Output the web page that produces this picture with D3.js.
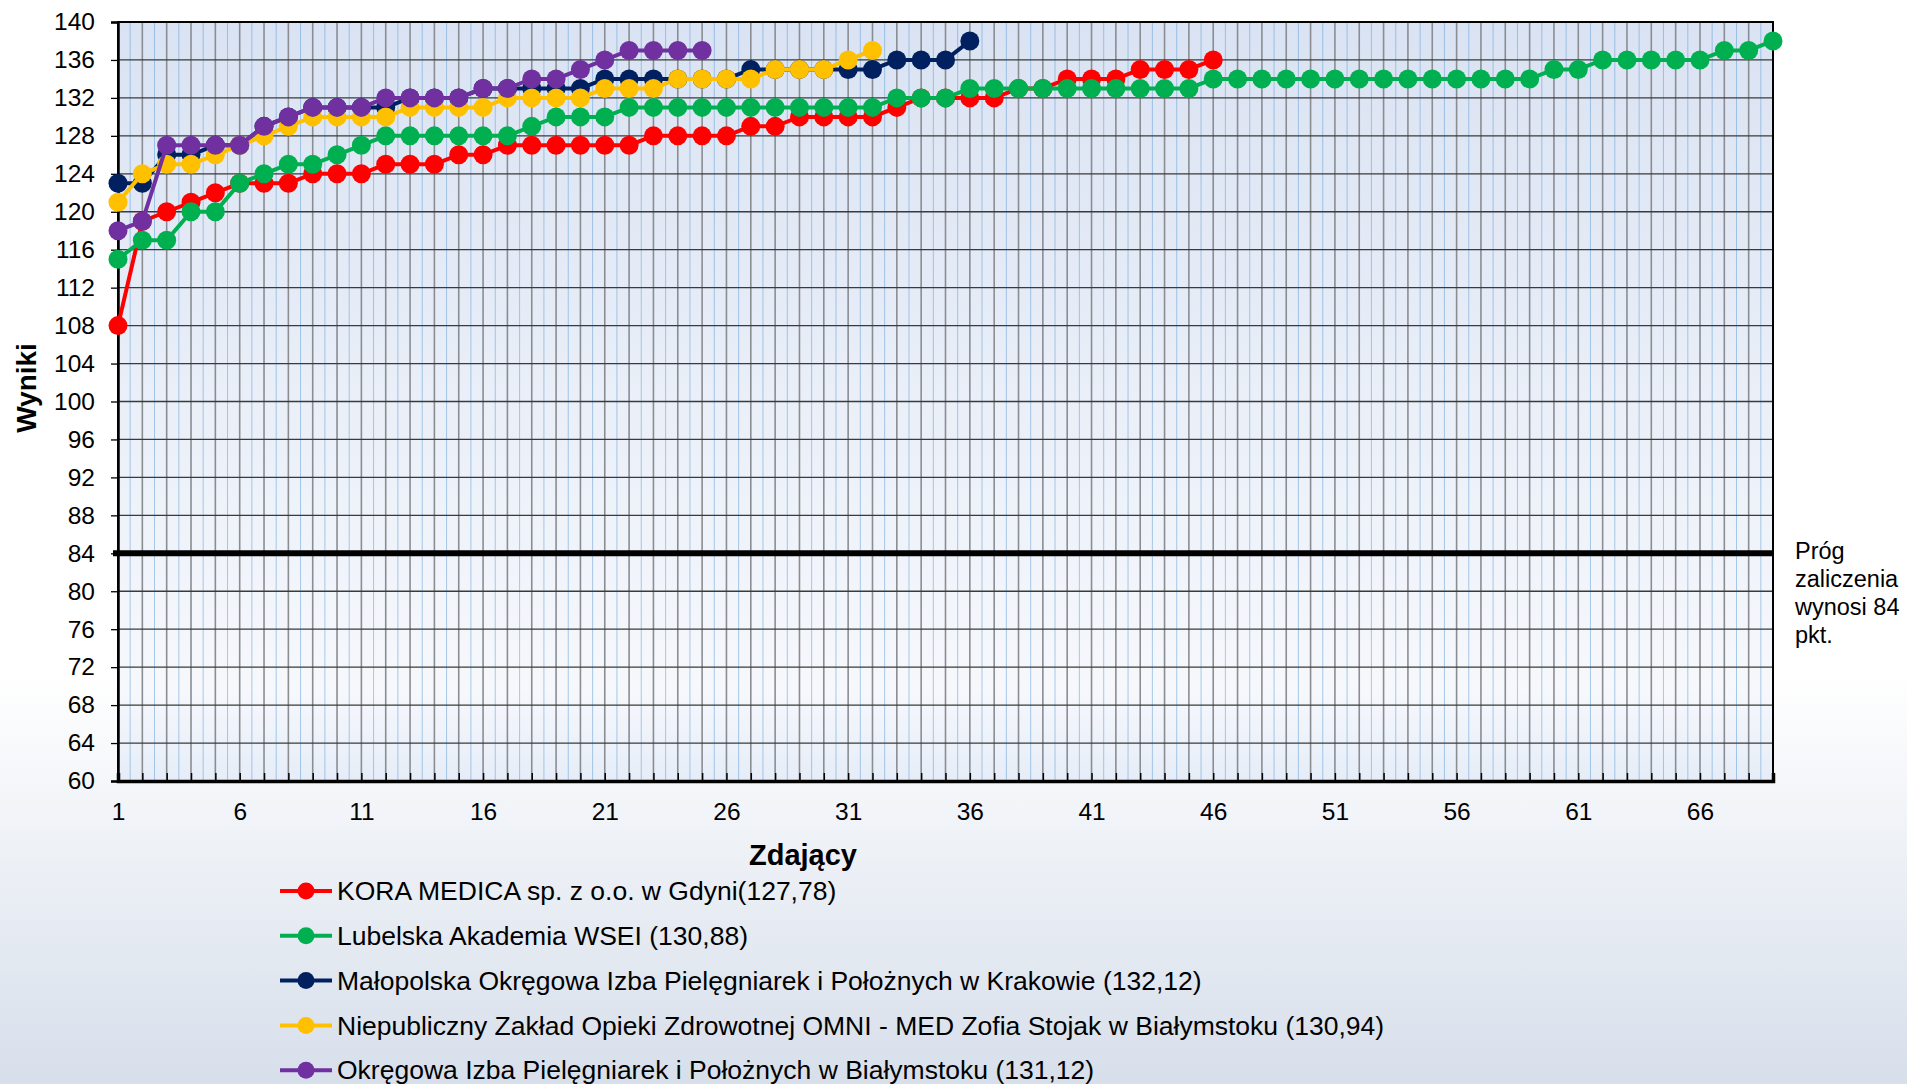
<!DOCTYPE html>
<html>
<head>
<meta charset="utf-8">
<script src="https://cdn.jsdelivr.net/npm/d3@7"></script>
<style>
  body { margin: 0; }
  svg { display: block; }
  text { font-family: "Liberation Sans", Arial, sans-serif; fill: #000; }
</style>
</head>
<body>
<svg id="chart" width="1907" height="1084"></svg>
<script>
// participants on the x axis (1..69)
const participants = d3.range(1, 70);
const xTickLabels = [1, 6, 11, 16, 21, 26, 31, 36, 41, 46, 51, 56, 61, 66];
const yTicks = [60, 64, 68, 72, 76, 80, 84, 88, 92, 96, 100, 104, 108, 112, 116, 120, 124, 128, 132, 136, 140];
const passThreshold = 84;
const thresholdLabel = ['Próg', 'zaliczenia', 'wynosi 84', 'pkt.'];

const seriesNames = [
    'KORA MEDICA sp. z o.o. w Gdyni(127,78)',
    'Lubelska Akademia WSEI (130,88)',
    'Małopolska Okręgowa Izba Pielęgniarek i Położnych w Krakowie (132,12)',
    'Niepubliczny Zakład Opieki Zdrowotnej OMNI - MED Zofia Stojak w Białymstoku (130,94)',
    'Okręgowa Izba Pielęgniarek i Położnych w Białymstoku (131,12)'
];
const seriesColors = ['#ff0000', '#00b050', '#002060', '#ffc000', '#7030a0'];

const koraMedica = [108, 119, 120, 121, 122, 123, 123, 123, 124, 124, 124, 125, 125, 125, 126, 126,
    127, 127, 127, 127, 127, 127, 128, 128, 128, 128, 129, 129, 130, 130, 130, 130, 131, 132, 132, 132,
    132, 133, 133, 134, 134, 134, 135, 135, 135, 136];
const lubelskaWsei = [115, 117, 117, 120, 120, 123, 124, 125, 125, 126, 127, 128, 128, 128, 128, 128,
    128, 129, 130, 130, 130, 131, 131, 131, 131, 131, 131, 131, 131, 131, 131, 131, 132, 132, 132, 133,
    133, 133, 133, 133, 133, 133, 133, 133, 133, 134, 134, 134, 134, 134, 134, 134, 134, 134, 134, 134,
    134, 134, 134, 135, 135, 136, 136, 136, 136, 136, 137, 137, 138];
const malopolskaOipip = [123, 123, 126, 126, 127, 127, 129, 130, 131, 131, 131, 131, 132, 132, 132, 133,
    133, 133, 133, 133, 134, 134, 134, 134, 134, 134, 135, 135, 135, 135, 135, 135, 136, 136, 136, 138];
const omniMed = [121, 124, 125, 125, 126, 127, 128, 129, 130, 130, 130, 130, 131, 131, 131, 131, 132,
    132, 132, 132, 133, 133, 133, 134, 134, 134, 134, 135, 135, 135, 136, 137];
const oipipBialystok = [118, 119, 127, 127, 127, 127, 129, 130, 131, 131, 131, 132, 132, 132, 132, 133,
    133, 134, 134, 135, 136, 137, 137, 137, 137];

const seriesValues = [koraMedica, lubelskaWsei, malopolskaOipip, omniMed, oipipBialystok];

const svg = d3.select('#chart');
const plot = { left: 118, right: 1773, top: 22, bottom: 781 };

const xScale = d3.scaleLinear().domain([1, 69]).range([plot.left, plot.right]);
const yScale = d3.scaleLinear().domain([60, 140]).range([plot.bottom, plot.top]);

// page + plot backgrounds
const defs = svg.append('defs');
const pageGrad = defs.append('linearGradient').attr('id', 'pageGrad')
    .attr('x1', 0).attr('y1', 0).attr('x2', 0).attr('y2', 1);
pageGrad.append('stop').attr('offset', '0%').attr('stop-color', '#ffffff');
pageGrad.append('stop').attr('offset', '62%').attr('stop-color', '#ffffff');
pageGrad.append('stop').attr('offset', '100%').attr('stop-color', '#d7dfeb');

const plotGrad = defs.append('linearGradient').attr('id', 'plotGrad')
    .attr('x1', 0).attr('y1', 0).attr('x2', 0).attr('y2', 1);
plotGrad.append('stop').attr('offset', '0%').attr('stop-color', '#dae3f3');
plotGrad.append('stop').attr('offset', '88%').attr('stop-color', '#f6f8fc');
plotGrad.append('stop').attr('offset', '100%').attr('stop-color', '#e6edf8');

svg.append('rect').attr('width', 1907).attr('height', 1084).attr('fill', 'url(#pageGrad)');
svg.append('rect')
    .attr('x', plot.left).attr('y', plot.top)
    .attr('width', plot.right - plot.left).attr('height', plot.bottom - plot.top)
    .attr('fill', 'url(#plotGrad)');

// thin blue lines between categories
svg.append('g').selectAll('line')
    .data(participants.slice(0, -1))
    .join('line')
        .attr('x1', d => xScale(d + 0.5)).attr('x2', d => xScale(d + 0.5))
        .attr('y1', plot.top).attr('y2', plot.bottom)
        .attr('stroke', '#5b9bd5').attr('stroke-width', 1).attr('opacity', 0.5);

// vertical grid at each participant
svg.append('g').selectAll('line')
    .data(participants)
    .join('line')
        .attr('x1', d => xScale(d)).attr('x2', d => xScale(d))
        .attr('y1', plot.top).attr('y2', plot.bottom)
        .attr('stroke', '#8a8d92').attr('stroke-width', 1.6);

// horizontal grid
svg.append('g').selectAll('line')
    .data(yTicks)
    .join('line')
        .attr('x1', plot.left).attr('x2', plot.right)
        .attr('y1', d => yScale(d)).attr('y2', d => yScale(d))
        .attr('stroke', '#3a3a3a').attr('stroke-width', 1.3);

// plot frame
svg.append('rect')
    .attr('x', plot.left).attr('y', plot.top)
    .attr('width', plot.right - plot.left).attr('height', plot.bottom - plot.top)
    .attr('fill', 'none').attr('stroke', '#000').attr('stroke-width', 2);

// y axis
const yAxis = d3.axisLeft(yScale).tickValues(yTicks).tickSize(7).tickPadding(16);
const yAxisG = svg.append('g').attr('transform', 'translate(' + plot.left + ',0)').call(yAxis);
yAxisG.select('.domain').attr('stroke', '#000').attr('stroke-width', 2.5);
yAxisG.selectAll('line').attr('stroke', '#000').attr('stroke-width', 1.3);
yAxisG.selectAll('text').style('font-size', '24.5px').style('font-family', '"Liberation Sans", Arial, sans-serif');

// x axis: ticks point inward at every participant, labels every 5
const xAxis = d3.axisBottom(xScale).tickValues(participants).tickSize(-8).tickPadding(22)
    .tickFormat(d => xTickLabels.includes(d) ? d : '');
const xAxisG = svg.append('g').attr('transform', 'translate(0,' + plot.bottom + ')').call(xAxis);
xAxisG.select('.domain').attr('stroke', '#000').attr('stroke-width', 3.5);
xAxisG.selectAll('line').attr('stroke', '#000').attr('stroke-width', 1.5);
xAxisG.selectAll('text').style('font-size', '24.5px').style('font-family', '"Liberation Sans", Arial, sans-serif');

// axis titles
svg.append('text')
    .attr('x', 803).attr('y', 865)
    .attr('text-anchor', 'middle')
    .style('font-size', '29px').style('font-weight', 'bold')
    .text('Zdający');

svg.append('text')
    .attr('transform', 'translate(36,388) rotate(-90)')
    .attr('text-anchor', 'middle')
    .style('font-size', '28px').style('font-weight', 'bold')
    .text('Wyniki');

// pass threshold
svg.append('line')
    .attr('x1', plot.left - 5).attr('x2', plot.right)
    .attr('y1', yScale(passThreshold)).attr('y2', yScale(passThreshold))
    .attr('stroke', '#000').attr('stroke-width', 6);

svg.append('text')
    .attr('x', 1795).attr('y', 559)
    .style('font-size', '23.5px')
    .selectAll('tspan')
    .data(thresholdLabel)
    .join('tspan')
        .attr('x', 1795)
        .attr('dy', (d, i) => i === 0 ? 0 : 28)
        .text(d => d);

// series
const line = d3.line()
    .x((d, i) => xScale(participants[i]))
    .y(d => yScale(d));

seriesValues.forEach((values, s) => {
    const g = svg.append('g').attr('class', 'series');
    g.append('path')
        .datum(values)
        .attr('d', line)
        .attr('fill', 'none')
        .attr('stroke', seriesColors[s])
        .attr('stroke-width', 4);
    g.selectAll('circle')
        .data(values)
        .join('circle')
            .attr('cx', (d, i) => xScale(participants[i]))
            .attr('cy', d => yScale(d))
            .attr('r', 9.5)
            .attr('fill', seriesColors[s]);
});

// legend
const legend = svg.append('g').attr('transform', 'translate(280,891)');
const legendItem = legend.selectAll('g')
    .data(seriesNames)
    .join('g')
        .attr('transform', (d, i) => 'translate(0,' + i * 44.8 + ')');
legendItem.append('line')
    .attr('x1', 0).attr('x2', 52)
    .attr('stroke', (d, i) => seriesColors[i]).attr('stroke-width', 4);
legendItem.append('circle')
    .attr('cx', 26).attr('r', 8.5)
    .attr('fill', (d, i) => seriesColors[i]);
legendItem.append('text')
    .attr('x', 57).attr('dy', '0.35em')
    .style('font-size', '26.5px')
    .text(d => d);
</script>
</body>
</html>
